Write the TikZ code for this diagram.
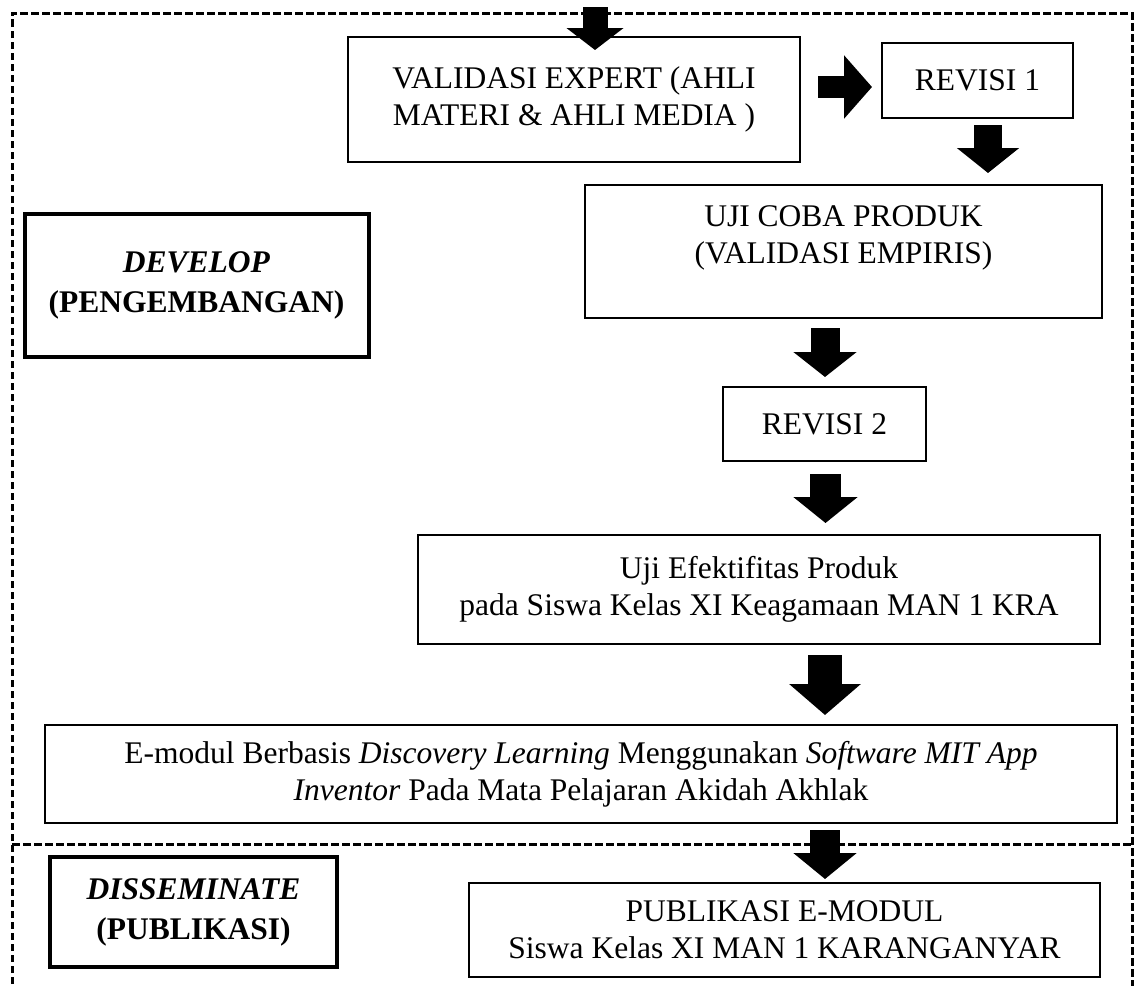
\documentclass[tikz,border=0pt]{standalone}
\usepackage{fontspec}
\setmainfont{Liberation Serif}
\usetikzlibrary{arrows.meta,calc}
\begin{document}
\begin{tikzpicture}[x=1pt,y=-1pt,
  box/.style={draw,line width=2pt,fill=white,inner sep=0pt,outer sep=0pt,align=center,font=\fontsize{31.5pt}{37pt}\selectfont},
  thickbox/.style={box,line width=4pt,font=\fontsize{31.5pt}{40pt}\selectfont\bfseries},
  txt/.style={inner sep=0pt,align=center,font=\fontsize{31.5pt}{37pt}\selectfont},
  frame/.style={line width=3pt,dash pattern=on 7.5pt off 3.5pt},
  barrow/.style n args={3}{line width=#1,-{Triangle[width=#2,length=#3]}},
]
\useasboundingbox (0,0) rectangle (1139,985);
% dashed frame
\draw[frame] (12,995) -- (12,13) -- (1132,13) -- (1132,995);
\draw[frame] (12,844) -- (1132,844);
% boxes
\node[box,minimum width=452pt,minimum height=125pt] (val) at (574,99.5) {VALIDASI EXPERT (AHLI\\MATERI \& AHLI MEDIA )};
\node[box,minimum width=191pt,minimum height=75pt] (rev1) at (977.5,80.5) {REVISI 1};
\node[box,minimum width=517pt,minimum height=133pt] (uji) at (843.5,251.5) {};
\node[txt] (ujitxt) at ($(uji.center)+(0,-14)$) {UJI COBA PRODUK\\(VALIDASI EMPIRIS)};
\node[thickbox,minimum width=344pt,minimum height=143pt] (dev) at (196.5,285.5) {\textit{DEVELOP}\\(PENGEMBANGAN)};
\node[box,minimum width=203pt,minimum height=74pt] (rev2) at (824.5,424) {REVISI 2};
\node[box,minimum width=682pt,minimum height=109pt] (ujief) at (759,589.5) {Uji Efektifitas Produk\\pada Siswa Kelas XI Keagamaan MAN 1 KRA};
\node[box,minimum width=1072pt,minimum height=98pt] (emod) at (581,774) {E-modul Berbasis \textit{Discovery Learning} Menggunakan \textit{Software MIT App}\\\textit{Inventor} Pada Mata Pelajaran Akidah Akhlak};
\node[thickbox,minimum width=287pt,minimum height=110pt] (diss) at (193.5,912) {\textit{DISSEMINATE}\\(PUBLIKASI)};
\node[box,minimum width=631pt,minimum height=94pt] (pub) at (784.5,930) {PUBLIKASI E-MODUL\\Siswa Kelas XI MAN 1 KARANGANYAR};
% block arrows
\coordinate (top0) at (595,7);
\draw[barrow={25pt}{56pt}{22pt}] (top0) -- ($(top0 |- val.north)+(0,13)$);
\draw[barrow={22pt}{62pt}{28pt}] ($(val.east)+(18,-12.5)$) -- ($(rev1.west)+(-10,6.5)$);
\draw[barrow={28pt}{61pt}{25pt}] ($(rev1.south)+(10.5,7)$) -- ($(uji.north -| rev1.south)+(10.5,-12)$);
\draw[barrow={29pt}{62pt}{25pt}] ($(uji.south)+(-18.5,10)$) -- ($(rev2.north)+(0.5,-10)$);
\draw[barrow={31pt}{63pt}{26pt}] ($(rev2.south)+(1,13)$) -- ($(ujief.north -| rev2.south)+(1,-12)$);
\draw[barrow={34pt}{70pt}{31pt}] ($(ujief.south)+(66,11)$) -- ($(emod.north)+(244,-10)$);
\draw[barrow={30pt}{62pt}{26pt}] ($(emod.south)+(244,7)$) -- ($(pub.north)+(40.5,-4)$);
\end{tikzpicture}
\end{document}
